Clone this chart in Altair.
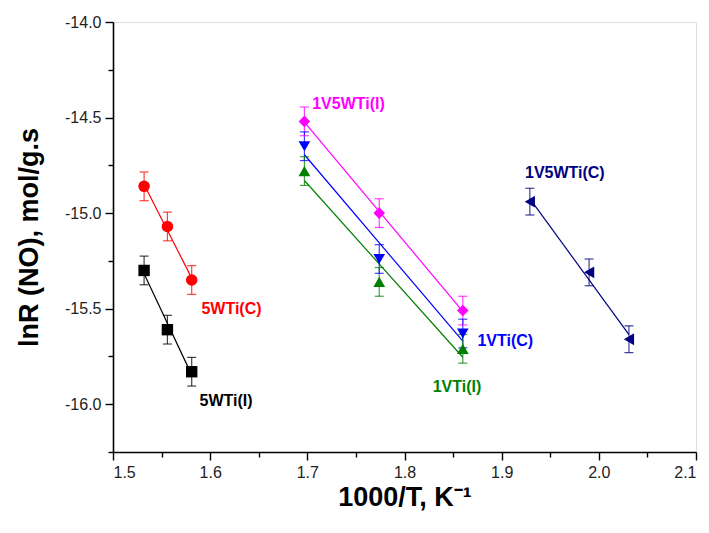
import altair as alt
import pandas as pd

# ---- data ----
series_names = ["5WTi(I)", "5WTi(C)", "1V5WTi(I)", "1VTi(C)", "1VTi(I)", "1V5WTi(C)"]
series_colors = ["#000000", "#FF0000", "#FF00FF", "#0000FF", "#008000", "#000080"]
series_shapes = ["square", "circle", "diamond", "triangle-down", "triangle-up", "triangle-left"]
series_sizes = [130, 140, 200, 190, 190, 190]

x_5WTi_I = [1.532, 1.556, 1.581]
y_5WTi_I = [-15.30, -15.61, -15.83]
x_5WTi_C = [1.532, 1.556, 1.581]
y_5WTi_C = [-14.86, -15.07, -15.35]
x_1V5WTi_I = [1.697, 1.774, 1.860]
y_1V5WTi_I = [-14.52, -15.00, -15.51]
x_1VTi_C = [1.697, 1.774, 1.860]
y_1VTi_C = [-14.65, -15.24, -15.63]
x_1VTi_I = [1.697, 1.774, 1.860]
y_1VTi_I = [-14.78, -15.36, -15.71]
x_1V5WTi_C = [1.929, 1.990, 2.031]
y_1V5WTi_C = [-14.94, -15.31, -15.66]
err_5WTi_I = [0.075, 0.075, 0.075]
err_5WTi_C = [0.075, 0.075, 0.075]
err_1V5WTi_I = [0.075, 0.075, 0.075]
err_1VTi_C = [0.075, 0.075, 0.075]
err_1VTi_I = [0.075, 0.075, 0.075]
err_1V5WTi_C = [0.07, 0.07, 0.07]

label_text = ["5WTi(C)", "5WTi(I)", "1V5WTi(I)", "1VTi(C)", "1VTi(I)", "1V5WTi(C)"]
label_x = [1.591, 1.589, 1.705, 1.875, 1.829, 1.924]
label_y = [-15.50, -15.985, -14.43, -15.67, -15.91, -14.79]
label_color = ["#FF0000", "#000000", "#FF00FF", "#0000FF", "#008000", "#000080"]

x_major = [1.5, 1.6, 1.7, 1.8, 1.9, 2.0, 2.1]
x_minor = [1.55, 1.65, 1.75, 1.85, 1.95, 2.05]
y_major = [-16.0, -15.5, -15.0, -14.5, -14.0]
y_minor = [-16.25, -15.75, -15.25, -14.75, -14.25]

# ---- build table ----
xs = [x_5WTi_I, x_5WTi_C, x_1V5WTi_I, x_1VTi_C, x_1VTi_I, x_1V5WTi_C]
ys = [y_5WTi_I, y_5WTi_C, y_1V5WTi_I, y_1VTi_C, y_1VTi_I, y_1V5WTi_C]
es = [err_5WTi_I, err_5WTi_C, err_1V5WTi_I, err_1VTi_C, err_1VTi_I, err_1V5WTi_C]
rows = []
for name, xv, yv, ev in zip(series_names, xs, ys, es):
    for a, b, e in zip(xv, yv, ev):
        rows.append({"series": name, "x": a, "y": b, "lo": b - e, "hi": b + e})
df = pd.DataFrame(rows)
labels = pd.DataFrame({"text": label_text, "x": label_x, "y": label_y, "color": label_color})

FONT = "Liberation Sans"
xscale = alt.Scale(domain=[1.5, 2.1], nice=False, zero=False)
yscale = alt.Scale(domain=[-16.25, -14.0], nice=False, zero=False)
color = alt.Color("series:N", scale=alt.Scale(domain=series_names, range=series_colors), legend=None)
shape = alt.Shape("series:N", scale=alt.Scale(domain=series_names, range=series_shapes), legend=None)
size = alt.Size("series:N", scale=alt.Scale(domain=series_names, range=series_sizes), legend=None)

LBL = "replace(format(datum.value, '.1f'), '\u2212', '-')"

base = alt.Chart(df)

x_axis_major = alt.Axis(values=x_major, labelExpr=LBL, tickSize=8, labelFontSize=16, labelFont=FONT,
                        labelColor="#222", title="1000/T, K\u207b\u00b9", titleFontSize=27, titleFont=FONT,
                        titleFontWeight="bold", titlePadding=4, grid=False, domainColor="black",
                        tickColor="black", domainWidth=1.6, tickWidth=1.4, labelPadding=4, orient="bottom")
y_axis_major = alt.Axis(values=y_major, labelExpr=LBL, tickSize=8, labelFontSize=16, labelFont=FONT,
                        labelColor="#222", title="lnR (NO), mol/g.s", titleFontSize=27, titleFont=FONT,
                        titleFontWeight="bold", titlePadding=21, grid=False, domainColor="black",
                        tickColor="black", domainWidth=1.6, tickWidth=1.4, labelPadding=4, orient="left")
x_axis_minor = alt.Axis(values=x_minor, labels=False, tickSize=5, domain=False, grid=False, title=None,
                        tickColor="black", tickWidth=1.4, orient="bottom")
y_axis_minor = alt.Axis(values=y_minor, labels=False, tickSize=5, domain=False, grid=False, title=None,
                        tickColor="black", tickWidth=1.4, orient="left")

fit = base.transform_regression("x", "y", groupby=["series"]).mark_line(strokeWidth=1.2).encode(
    x=alt.X("x:Q", scale=xscale, axis=x_axis_minor),
    y=alt.Y("y:Q", scale=yscale, axis=y_axis_minor),
    color=color,
)

err_rule = base.mark_rule(strokeWidth=1.2, opacity=0.75).encode(
    x=alt.X("x:Q", scale=xscale, axis=None),
    y=alt.Y("lo:Q", scale=yscale, axis=None),
    y2="hi:Q",
    color=color,
)
cap_lo = base.mark_tick(thickness=1.2, size=9, opacity=0.75, orient="horizontal").encode(
    x=alt.X("x:Q", scale=xscale, axis=None),
    y=alt.Y("lo:Q", scale=yscale, axis=None),
    color=color,
)
cap_hi = base.mark_tick(thickness=1.2, size=9, opacity=0.75, orient="horizontal").encode(
    x=alt.X("x:Q", scale=xscale, axis=None),
    y=alt.Y("hi:Q", scale=yscale, axis=None),
    color=color,
)

pts = base.mark_point(filled=True, opacity=1).encode(
    x=alt.X("x:Q", scale=xscale, axis=x_axis_major),
    y=alt.Y("y:Q", scale=yscale, axis=y_axis_major),
    color=color,
    shape=shape,
    size=size,
)

txt = alt.Chart(labels).mark_text(align="left", baseline="middle", font=FONT, fontSize=16,
                                  fontWeight="bold").encode(
    x=alt.X("x:Q", scale=xscale, axis=None),
    y=alt.Y("y:Q", scale=yscale, axis=None),
    text="text:N",
    color=alt.Color("color:N", scale=None, legend=None),
)

chart = alt.layer(fit, err_rule, cap_lo, cap_hi, pts, txt).resolve_axis(
    x="independent", y="independent"
).properties(
    width=583, height=430,
    autosize=alt.AutoSizeParams(type="none"),
    padding={"left": 105, "top": 14, "right": 4, "bottom": 70},
).configure_view(stroke="black", strokeWidth=1.6).configure_axis(
    domainColor="black", tickColor="black"
).configure(background="white")

chart.save("out.html", embed_options={"renderer": "svg", "actions": False})
